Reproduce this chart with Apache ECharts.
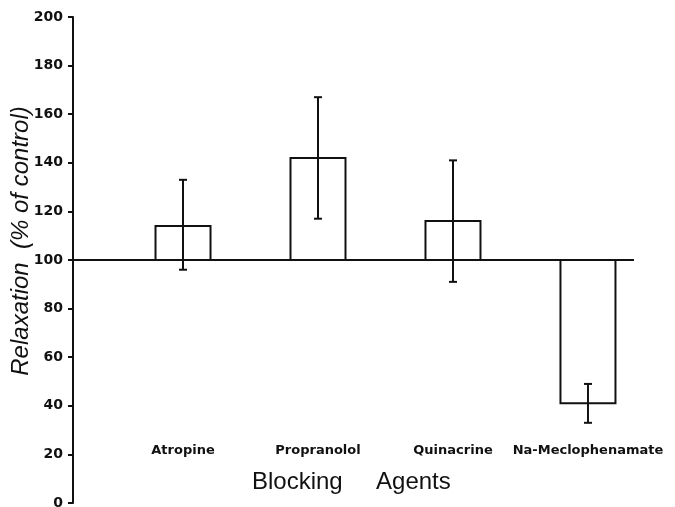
<!DOCTYPE html>
<html>
<head>
<meta charset="utf-8">
<script src="https://cdn.jsdelivr.net/npm/echarts@6/dist/echarts.min.js"></script>
<style>html,body{margin:0;padding:0;background:#fff;}#c{width:675px;height:507px;}</style>
</head>
<body>
<div id="c"></div>
<script>
var categories = ['Atropine', 'Propranolol', 'Quinacrine', 'Na-Meclophenamate'];
var means = [114, 142, 116, 41];
var errUpper = [133, 167, 141, 49];
var errLower = [96, 117, 91, 33];
var controlLevel = 100;
var yTickValues = [0, 20, 40, 60, 80, 100, 120, 140, 160, 180, 200];

var chart = echarts.init(document.getElementById('c'));
var barData = categories.map(function (c, i) { return [i, means[i]]; });
var errData = categories.map(function (c, i) { return [i, errLower[i], errUpper[i]]; });
var positions = categories.map(function (c, i) { return i; });

chart.setOption({
  animation: false,
  backgroundColor: '#fff',
  title: {
    text: 'Blocking     Agents',
    left: 252, top: 470, padding: 0,
    textStyle: { fontFamily: 'Liberation Sans', fontSize: 24, fontWeight: 'normal', color: '#111' }
  },
  grid: { left: 73, right: 41, top: 17, bottom: 4, containLabel: false, outerBoundsMode: 'none' },
  xAxis: {
    type: 'value', min: -0.815, max: 3.341,
    axisLine: { show: false }, axisTick: { show: false }, splitLine: { show: false },
    axisLabel: {
      customValues: positions,
      formatter: function (v) { return categories[Math.round(v)] || ''; },
      margin: -59,
      fontFamily: 'DejaVu Sans', fontWeight: 'bold', fontSize: 13, color: '#111'
    }
  },
  yAxis: {
    type: 'value', min: 0, max: 200, interval: 20,
    name: 'Relaxation  (% of control)',
    nameLocation: 'middle', nameGap: 40, nameMoveOverlap: false,
    nameTextStyle: { fontFamily: 'Liberation Sans', fontStyle: 'italic', fontSize: 24, color: '#111', padding: [0, 0, 0, 38] },
    axisLine: { show: true, onZero: false, lineStyle: { color: '#111', width: 2 } },
    axisTick: { show: true, length: 5, lineStyle: { color: '#111', width: 2 } },
    splitLine: { show: false },
    axisLabel: {
      margin: 10,
      formatter: function (v) { return yTickValues.indexOf(v) >= 0 ? String(v) : ''; },
      fontFamily: 'DejaVu Sans', fontWeight: 'bold', fontSize: 14, color: '#111'
    }
  },
  series: [
    {
      type: 'custom',
      data: barData,
      renderItem: function (params, api) {
        var x = api.value(0), v = api.value(1);
        var p0 = api.coord([x, controlLevel]);
        var p1 = api.coord([x, v]);
        var w = 55;
        return {
          type: 'rect',
          shape: { x: p0[0] - w / 2, y: Math.min(p0[1], p1[1]), width: w, height: Math.abs(p1[1] - p0[1]) },
          style: { fill: '#fff', stroke: '#111', lineWidth: 2 }
        };
      },
      markLine: {
        silent: true, symbol: 'none', animation: false,
        label: { show: false },
        lineStyle: { color: '#111', width: 2, type: 'solid' },
        data: [{ yAxis: controlLevel }]
      },
      z: 2
    },
    {
      type: 'custom',
      data: errData,
      renderItem: function (params, api) {
        var x = api.value(0);
        var lo = api.coord([x, api.value(1)]);
        var hi = api.coord([x, api.value(2)]);
        var c = 4;
        var st = { stroke: '#111', lineWidth: 2 };
        return {
          type: 'group',
          children: [
            { type: 'line', shape: { x1: lo[0], y1: lo[1], x2: hi[0], y2: hi[1] }, style: st },
            { type: 'line', shape: { x1: hi[0] - c, y1: hi[1], x2: hi[0] + c, y2: hi[1] }, style: st },
            { type: 'line', shape: { x1: lo[0] - c, y1: lo[1], x2: lo[0] + c, y2: lo[1] }, style: st }
          ]
        };
      },
      z: 3
    }
  ]
});
</script>
</body>
</html>
